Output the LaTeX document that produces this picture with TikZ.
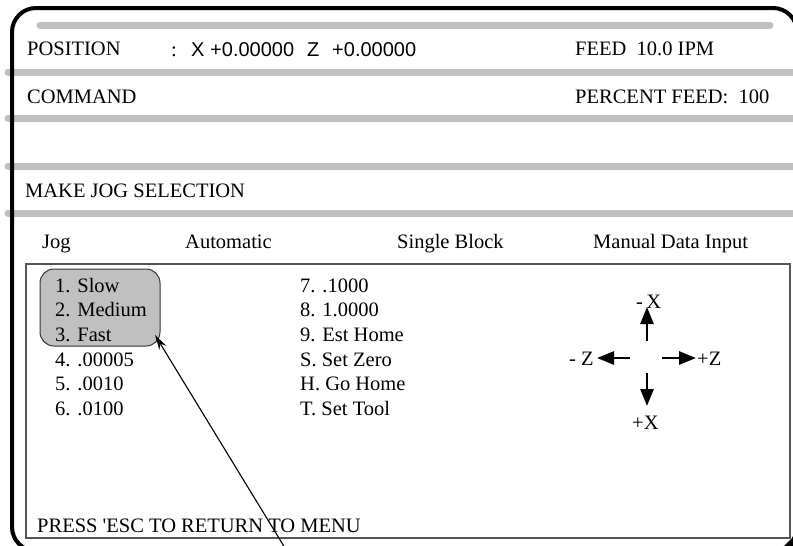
\documentclass[tikz,border=0pt]{standalone}
\usepackage{fontspec}
\setmainfont{Liberation Serif}
\newfontfamily\sansf{Liberation Sans}
\usetikzlibrary{arrows.meta}
\definecolor{bargray}{HTML}{C0C0C0}
\definecolor{boxline}{HTML}{555555}
\tikzset{
  txt/.style={anchor=base west, inner sep=0pt, font=\fontsize{20.5}{24}\selectfont},
  sanstxt/.style={anchor=base west, inner sep=0pt, font=\sansf\fontsize{20}{24}\selectfont},
  bar/.style={line width=7pt, bargray, line cap=round},
  frame/.style={line width=4pt, black, rounded corners=24pt},
  jogarrow/.style={line width=2.8pt, -{Triangle[length=17pt,width=13pt]}},
  pointer/.style={line width=1.1pt, -{Stealth[length=15pt,width=8pt]}}
}
\begin{document}
\begin{tikzpicture}[x=1pt,y=-1pt]
\useasboundingbox (0,0) rectangle (793,546);
\clip (0,0) rectangle (793,546);
\fill[white] (0,0) rectangle (793,546);

% separator bars of the screen
\draw[bar] (40,25) -- (770,25);
\draw[bar] (8,72) -- (810,72);
\draw[bar] (8,118) -- (810,118);
\draw[bar] (8,166) -- (810,166);
\draw[bar] (8,213) -- (810,213);

% monitor bezel
\draw[frame] (797,300) -- (797,8) -- (12,8) -- (12,551) -- (797,551) -- cycle;

% status lines
\node[txt] (pos) at (27,55) {POSITION};
\node[txt] (colon) at (171,56) {:};
\node[sanstxt] (xl) at (191,56) {X};
\node[sanstxt] (xv) at (210,56) {+0.00000};
\node[sanstxt] (zl) at (307,56) {Z};
\node[sanstxt] (zv) at (332,56) {+0.00000};
\node[txt] (feed) at (575,55) {FEED\ \ 10.0 IPM};
\node[txt] (cmd) at (27,103) {COMMAND};
\node[txt] (pct) at (575,103) {PERCENT FEED:\ \ 100};
\node[txt] (prompt) at (25,197) {MAKE JOG SELECTION};

% mode headers
\node[txt] (hjog) at (42,248) {Jog};
\node[txt] (hauto) at (185,248) {Automatic};
\node[txt] (hsb) at (397,248) {Single Block};
\node[txt] (hmdi) at (593,248) {Manual Data Input};

% selection panel
\draw[boxline, line width=2pt] (26,264) rectangle (790,538);
\node[draw=black!80, fill=bargray, line width=1pt, rounded corners=14pt,
      minimum width=120pt, minimum height=77pt, inner sep=0pt] (speeds) at (100,307.5) {};

% jog increments
\node[txt] (j1) at (55,292) {1. Slow};
\node[txt] (j2) at (55,316.5) {2. Medium};
\node[txt] (j3) at (55,341) {3. Fast};
\node[txt] (j4) at (55,366) {4. .00005};
\node[txt] (j5) at (55,390.5) {5. .0010};
\node[txt] (j6) at (55,415) {6. .0100};
\node[txt] (j7) at (300,292) {7. .1000};
\node[txt] (j8) at (300,316.5) {8. 1.0000};
\node[txt] (j9) at (300,341) {9. Est Home};
\node[txt] (js) at (300,366) {S. Set Zero};
\node[txt] (jh) at (300,390.5) {H. Go Home};
\node[txt] (jt) at (300,415) {T. Set Tool};

% axis directions
\coordinate (upt) at (647,341);
\coordinate (uph) at (647,307);
\coordinate (dnt) at (647,373);
\coordinate (dnh) at (647,406);
\coordinate (lft) at (630,358);
\coordinate (lfh) at (597,358);
\coordinate (rgt) at (662,358);
\coordinate (rgh) at (696,358);
\draw[jogarrow] (upt) -- (uph);
\draw[jogarrow] (dnt) -- (dnh);
\draw[jogarrow] (lft) -- (lfh);
\draw[jogarrow] (rgt) -- (rgh);
\node[txt] (mx) at (636,308) {-\,X};
\node[txt] (px) at (632,429) {+X};
\node[txt] (mz) at (569,365) {-\ Z};
\node[txt] (pz) at (697,365) {+Z};

\node[txt] (esc) at (37,532) {PRESS \textquotesingle ESC TO RETURN TO MENU};

% pointer to the speed group
\coordinate (ptail) at (285,548);
\coordinate (ptip) at (155,335);
\draw[pointer] (ptail) -- (ptip);

% corner of the bezel, bottom right
\fill[black] (784,546) -- (791,539) -- (793,539) -- (793,546) -- cycle;
\end{tikzpicture}
\end{document}
